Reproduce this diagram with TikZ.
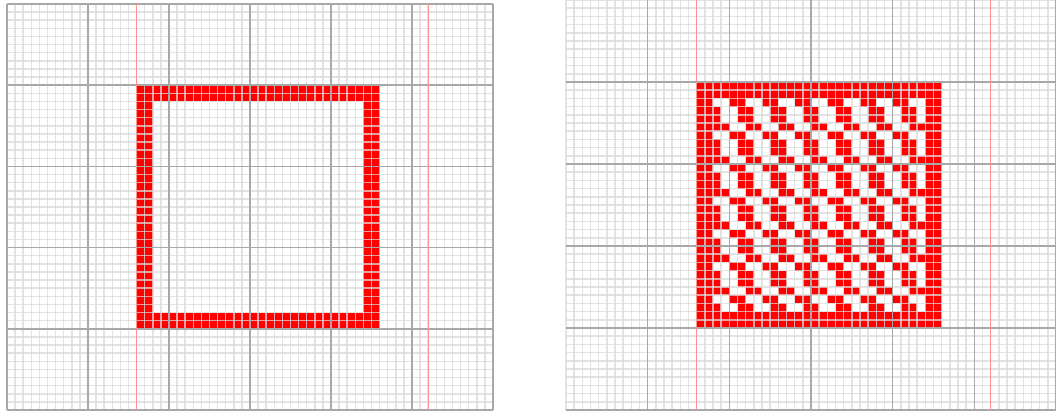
\documentclass[tikz,border=0pt]{standalone}
\definecolor{minorc}{RGB}{218,218,218}
\definecolor{majorc}{RGB}{168,168,168}
\definecolor{guide}{RGB}{255,145,145}
\definecolor{cellred}{RGB}{255,0,0}
\tikzset{
  minorline/.style={draw=minorc, line width=1.5pt, opacity=0.75},
  majorline/.style={draw=majorc, line width=1.5pt},
  guideline/.style={draw=guide, line width=1.3pt},
  redcell/.style={fill=cellred}
}
\begin{document}
\begin{tikzpicture}[x=1pt,y=-1pt]
\useasboundingbox (0,0) rectangle (1056,414);
\fill[white] (0,0) rectangle (1056,414);
% ---------- left panel ----------
\begin{scope}[shift={(7pt,-4pt)}, x=8.1pt, y=-8.12pt]
  \fill[redcell] (16,10) rectangle (46,12);
  \fill[redcell] (16,38) rectangle (46,40);
  \fill[redcell] (16,12) rectangle (18,38);
  \fill[redcell] (44,12) rectangle (46,38);
  \foreach \i in {0,...,60} \draw[minorline] (\i,0) -- (\i,50);
  \foreach \j in {0,...,50} \draw[minorline] (0,\j) -- (60,\j);
  \foreach \i in {0,10,...,60} \draw[majorline] (\i,0) -- (\i,50);
  \foreach \j in {0,10,...,50} \draw[majorline] (0,\j) -- (60,\j);
  \draw[guideline] (16,0) -- (16,50);
  \draw[guideline] (52,0) -- (52,50);
\end{scope}
% ---------- right panel ----------
\begin{scope}[shift={(566pt,0pt)}, x=8.167pt, y=-8.2pt]
  \fill[redcell] (16,10) rectangle (46,12);
  \fill[redcell] (16,38) rectangle (46,40);
  \fill[redcell] (16,12) rectangle (18,38);
  \fill[redcell] (44,12) rectangle (46,38);
  \foreach \r in {2,...,27}{
    \pgfmathtruncatemacro{\m}{mod(\r-2,4)}
    \pgfmathtruncatemacro{\s}{\m==0 ? 0 : (\m==3 ? 2 : 1)}
    \foreach \c in {2,...,27}{
      \pgfmathtruncatemacro{\k}{mod(\c-\s+8,4)}
      \ifnum\k<2
        \fill[redcell] ({16+\c},{10+\r}) rectangle ({17+\c},{11+\r});
      \fi
    }
  }
  \foreach \i in {0,...,60} \draw[minorline] (\i,0) -- (\i,50);
  \foreach \j in {0,...,50} \draw[minorline] (0,\j) -- (60,\j);
  \foreach \i in {10,20,...,60} \draw[majorline] (\i,0) -- (\i,50);
  \foreach \j in {10,20,...,50} \draw[majorline] (0,\j) -- (60,\j);
  \draw[guideline] (16,0) -- (16,50);
  \draw[guideline] (52,0) -- (52,50);
\end{scope}
\end{tikzpicture}
\end{document}
